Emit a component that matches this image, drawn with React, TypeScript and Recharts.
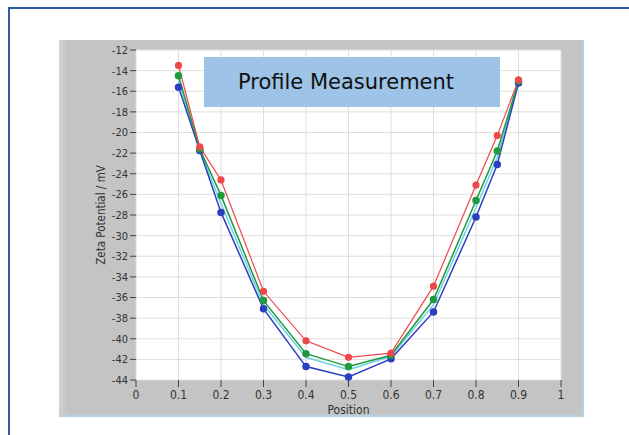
import React from 'react';
import { LineChart, Line, XAxis, YAxis, CartesianGrid } from 'recharts';

const positions = [0.1, 0.15, 0.2, 0.3, 0.4, 0.5, 0.6, 0.7, 0.8, 0.85, 0.9];
const redSeries = [-13.5, -21.4, -24.6, -35.4, -40.2, -41.8, -41.4, -34.9, -25.1, -20.3, -14.9];
const greenSeries = [-14.5, -21.6, -26.1, -36.3, -41.45, -42.7, -41.6, -36.2, -26.6, -21.8, -15.0];
const cyanSeries = [-15.0, -21.7, -26.9, -36.7, -41.8, -43.0, -41.7, -36.7, -27.3, -22.4, -15.1];
const blueSeries = [-15.6, -21.75, -27.75, -37.1, -42.7, -43.7, -41.95, -37.4, -28.2, -23.1, -15.2];

const xTicks = [0, 0.1, 0.2, 0.3, 0.4, 0.5, 0.6, 0.7, 0.8, 0.9, 1];
const yTicks = [-12, -14, -16, -18, -20, -22, -24, -26, -28, -30, -32, -34, -36, -38, -40, -42, -44];

const data = positions.map((p, i) => ({
  x: p,
  red: redSeries[i],
  green: greenSeries[i],
  cyan: cyanSeries[i],
  blue: blueSeries[i],
}));

const fontFam = 'DejaVu Sans Condensed, Liberation Sans, Arial, sans-serif';
const yTickFont = { fontFamily: fontFam, fontSize: 11, fill: '#333' };
const xTickFont = { fontFamily: fontFam, fontSize: 12, fill: '#333' };

export default function App() {
  return (
    <div style={{ position: 'absolute', left: 0, top: 0, width: 629, height: 435, background: '#fff', overflow: 'hidden' }}>
      <div style={{ position: 'absolute', left: 8, top: 7, width: 640, height: 450, borderLeft: '2px solid #2f5f9f', borderTop: '2px solid #2f5f9f', boxSizing: 'border-box' }} />
      <div style={{ position: 'absolute', left: 59, top: 40, width: 525, height: 377, background: 'linear-gradient(to right, #d2d2d2 0px, #c4c4c4 8px, #c4c4c4 100%)', borderRight: '2px solid #b4d2e6', borderBottom: '2px solid #b4d2e6', boxSizing: 'border-box' }} />
      <div style={{ position: 'absolute', left: 0, top: 0 }}>
        <LineChart width={629} height={435} data={data} margin={{ top: 50, right: 68, bottom: 15, left: 76 }}>
          <CartesianGrid stroke="#dedede" fill="#ffffff" vertical horizontal />
          <XAxis
            dataKey="x"
            type="number"
            domain={[0, 1]}
            ticks={xTicks}
            height={40}
            axisLine={false}
            tickLine={{ stroke: '#444' }}
            tickSize={7}
            tickMargin={3}
            tick={xTickFont}
            tickFormatter={(v: number) => String(Math.round(v * 10) / 10)}
            label={{ value: 'Position', position: 'insideBottom', offset: 6, style: { fontFamily: fontFam, fontSize: 12, fill: '#333' } }}
          />
          <YAxis
            type="number"
            domain={[-44, -12]}
            ticks={yTicks}
            width={60}
            axisLine={false}
            tickLine={{ stroke: '#444' }}
            tickSize={6}
            tickMargin={2}
            tick={yTickFont}
            interval={0}
            label={{ value: 'Zeta Potential / mV', angle: -90, position: 'insideLeft', offset: 25, style: { textAnchor: 'middle', fontFamily: fontFam, fontSize: 11.5, fill: '#333' } }}
          />
          <Line dataKey="cyan" stroke="#6fd2e4" strokeWidth={1.5} dot={false} isAnimationActive={false} />
          <Line dataKey="blue" stroke="#2b3fc0" strokeWidth={1.5} dot={{ r: 3, fill: '#2b3fc0', stroke: '#2b3fc0' }} isAnimationActive={false} />
          <Line dataKey="green" stroke="#1f9a3e" strokeWidth={1.5} dot={{ r: 3, fill: '#1f9a3e', stroke: '#1f9a3e' }} isAnimationActive={false} />
          <Line dataKey="red" stroke="#f0474a" strokeWidth={1.2} dot={{ r: 3, fill: '#f0474a', stroke: '#f0474a' }} isAnimationActive={false} />
        </LineChart>
      </div>
      <div style={{ position: 'absolute', left: 204, top: 57, width: 296, height: 50, background: '#9dc3e6', display: 'flex', alignItems: 'center', justifyContent: 'center', paddingRight: 12, boxSizing: 'border-box', fontFamily: 'DejaVu Sans, Verdana, sans-serif', fontSize: 21, color: '#111' }}>
        Profile Measurement
      </div>
    </div>
  );
}
